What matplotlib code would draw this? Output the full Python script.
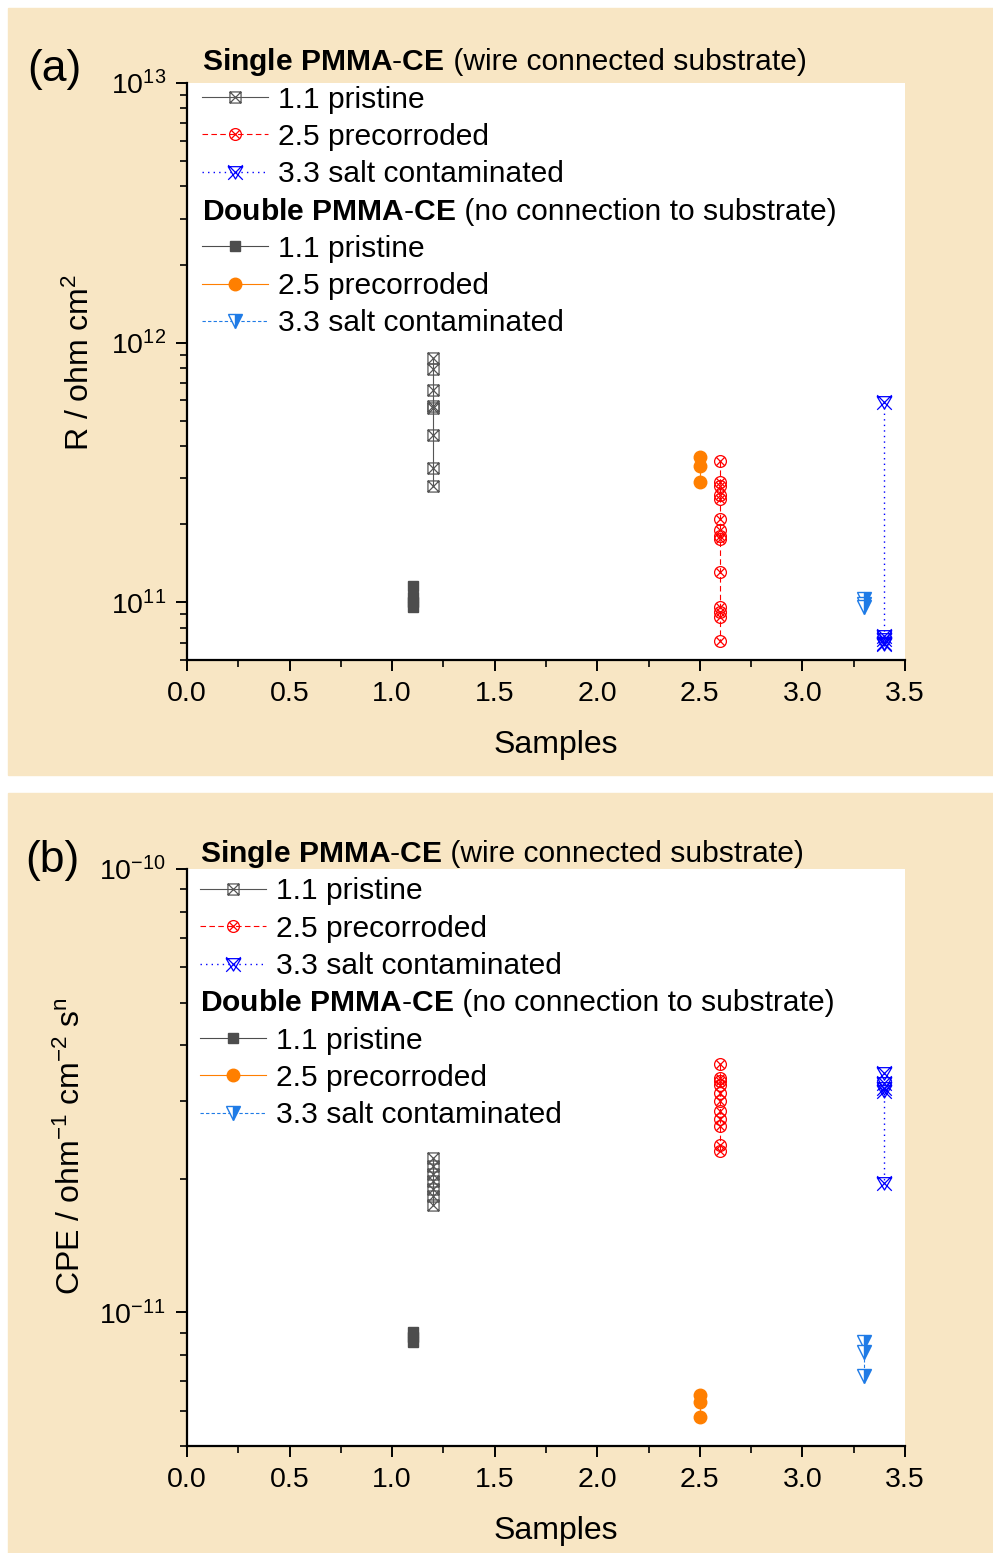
import matplotlib
matplotlib.use('Agg')
import matplotlib.pyplot as plt
from matplotlib.path import Path
from matplotlib.lines import Line2D
from matplotlib.patches import Rectangle
from matplotlib.ticker import MultipleLocator, FormatStrFormatter, NullFormatter

plt.rcParams['font.family'] = ['Liberation Sans', 'DejaVu Sans']
plt.rcParams['mathtext.fontset'] = 'custom'
plt.rcParams['mathtext.rm'] = 'Liberation Sans'
plt.rcParams['mathtext.bf'] = 'Liberation Sans:bold'
plt.rcParams['mathtext.it'] = 'Liberation Sans:italic'

# ---------------- data ----------------
series_labels = ["1.1 pristine", "2.5 precorroded", "3.3 salt contaminated"]
title_single = (r"$\mathbf{Single\ PMMA}$-$\mathbf{CE}$", " (wire connected substrate)")
title_double = (r"$\mathbf{Double\ PMMA}$-$\mathbf{CE}$", " (no connection to substrate)")

# panel (a): resistance R / ohm cm^2
x_sp_R = [1.2, 1.2, 1.2, 1.2, 1.2, 1.2, 1.2, 1.2]
sp_R = [8.7e11, 7.9e11, 6.6e11, 5.7e11, 5.6e11, 4.4e11, 3.3e11, 2.8e11]
x_sc_R = [2.6, 2.6, 2.6, 2.6, 2.6, 2.6, 2.6, 2.6, 2.6, 2.6, 2.6, 2.6, 2.6, 2.6]
sc_R = [3.5e11, 2.9e11, 2.8e11, 2.6e11, 2.5e11, 2.1e11, 1.9e11, 1.8e11,
        1.75e11, 1.31e11, 9.6e10, 9.2e10, 8.8e10, 7.1e10]
x_ss_R = [3.4, 3.4, 3.4, 3.4, 3.4]
ss_R = [5.9e11, 7.4e10, 7.2e10, 7.0e10, 6.9e10]
x_dp_R = [1.1, 1.1, 1.1, 1.1]
dp_R = [1.16e11, 1.05e11, 1.0e11, 9.6e10]
x_dc_R = [2.5, 2.5, 2.5]
dc_R = [3.63e11, 3.35e11, 2.9e11]
x_ds_R = [3.3, 3.3, 3.3]
ds_R = [1.03e11, 9.9e10, 9.56e10]

# panel (b): CPE / ohm^-1 cm^-2 s^n
x_sp_C = [1.2, 1.2, 1.2, 1.2, 1.2, 1.2, 1.2]
sp_C = [2.23e-11, 2.14e-11, 2.05e-11, 1.98e-11, 1.90e-11, 1.83e-11, 1.75e-11]
x_sc_C = [2.6, 2.6, 2.6, 2.6, 2.6, 2.6, 2.6, 2.6, 2.6, 2.6, 2.6]
sc_C = [3.64e-11, 3.38e-11, 3.33e-11, 3.26e-11, 3.13e-11, 3.0e-11, 2.85e-11,
        2.73e-11, 2.64e-11, 2.38e-11, 2.31e-11]
x_ss_C = [3.4, 3.4, 3.4, 3.4, 3.4]
ss_C = [3.47e-11, 3.30e-11, 3.21e-11, 3.15e-11, 1.96e-11]
x_dp_C = [1.1, 1.1, 1.1]
dp_C = [9.05e-12, 8.8e-12, 8.6e-12]
x_dc_C = [2.5, 2.5, 2.5]
dc_C = [6.52e-12, 6.29e-12, 5.82e-12]
x_ds_C = [3.3, 3.3, 3.3]
ds_C = [8.6e-12, 8.16e-12, 7.19e-12]

x_ticks_major = 0.5
x_ticks_minor = 0.25

# ---------------- markers ----------------
M, L, C = Path.MOVETO, Path.LINETO, Path.CLOSEPOLY
sq = Path([(-1, -1), (1, -1), (1, 1), (-1, 1), (-1, -1)], [M, L, L, L, C])
xl = Path([(-1, -1), (1, 1), (-1, 1), (1, -1)], [M, L, M, L])
box_x = Path.make_compound_path(sq, xl)
d = 0.7071
circ_x = Path.make_compound_path(Path.unit_circle(),
                                 Path([(-d, -d), (d, d), (-d, d), (d, -d)], [M, L, M, L]))
tri = Path([(-1, 0.8), (1, 0.8), (0, -0.9), (-1, 0.8)], [M, L, L, C])
tri_xl = Path([(-1, 1), (1, -1), (1, 1), (-1, -1)], [M, L, M, L])
tri_x = Path.make_compound_path(tri, tri_xl)

GREY1 = '#555555'
GREY2 = '#4D4D4D'
RED = '#FF0000'
BLUE = '#0000FF'
ORANGE = '#FF7F00'
BLUE2 = '#1F7BE6'
BEIGE = '#F8E6C4'

FS_TICK = 20.5
FS_LAB = 23
FS_LEG = 21.6

W, H = 993, 1553
fig = plt.figure(figsize=(W / 100, H / 100), dpi=100)
fig.patches.append(Rectangle((8 / W, 1 - 775 / H), (W - 8) / W, (775 - 8) / H,
                             transform=fig.transFigure, color=BEIGE, zorder=-10))
fig.patches.append(Rectangle((8 / W, 0), (W - 8) / W, (H - 793) / H,
                             transform=fig.transFigure, color=BEIGE, zorder=-10))

axL = 187 / W
axW = (905 - 187) / W
axH = (660 - 83) / H
ax1 = fig.add_axes([axL, 1 - 660 / H, axW, axH])
ax2 = fig.add_axes([axL, 1 - 1446 / H, axW, axH])


def draw_panel(ax, xs, ys):
    (x_sp, x_sc, x_ss, x_dp, x_dc, x_ds) = xs
    (sp, sc, ss, dp, dc, ds) = ys
    h = []
    h += ax.plot(x_sp, sp, ls='-', lw=0.8, color=GREY1, marker=box_x, ms=8,
                 mfc='none', mec=GREY1, mew=0.9)
    h += ax.plot(x_sc, sc, ls=(0, (5, 3)), lw=0.8, color=RED, marker=circ_x, ms=8.5,
                 mfc='none', mec=RED, mew=0.9)
    h += ax.plot(x_ss, ss, ls=(0, (1, 3)), lw=1.0, color=BLUE, marker=tri_x, ms=10.5,
                 mfc='none', mec=BLUE, mew=0.9)
    h += ax.plot(x_dp, dp, ls='-', lw=0.8, color=GREY2, marker='s', ms=7.5,
                 mfc=GREY2, mec=GREY2)
    h += ax.plot(x_dc, dc, ls='-', lw=0.8, color=ORANGE, marker='o', ms=9,
                 mfc=ORANGE, mec=ORANGE)
    h += ax.plot(x_ds, ds, ls=(0, (3, 2)), lw=0.8, color=BLUE2, marker='v', ms=10,
                 fillstyle='right', mfc=BLUE2, mfcalt='white', mec=BLUE2, mew=1.0)
    ax.set_facecolor('white')
    ax.set_yscale('log')
    ax.set_xlim(0, 3.5)
    ax.xaxis.set_major_locator(MultipleLocator(x_ticks_major))
    ax.xaxis.set_minor_locator(MultipleLocator(x_ticks_minor))
    ax.xaxis.set_major_formatter(FormatStrFormatter('%.1f'))
    ax.yaxis.set_minor_formatter(NullFormatter())
    ax.xaxis.get_offset_text().set_visible(False)
    ax.yaxis.get_offset_text().set_visible(False)
    for s in ('top', 'right'):
        ax.spines[s].set_visible(False)
    for s in ('left', 'bottom'):
        ax.spines[s].set_linewidth(1.6)
    ax.tick_params(which='major', direction='out', length=8, width=1.4,
                   labelsize=FS_TICK, pad=7)
    ax.tick_params(which='minor', direction='out', length=5, width=1.2)
    ax.set_xlabel('Samples', fontsize=FS_LAB, labelpad=16.5)
    ax.xaxis.label.set_x(0.514)
    return h


h1 = draw_panel(ax1, (x_sp_R, x_sc_R, x_ss_R, x_dp_R, x_dc_R, x_ds_R),
                (sp_R, sc_R, ss_R, dp_R, dc_R, ds_R))
ax1.set_ylim(6e10, 1e13)
ax1.set_ylabel(r'R / ohm cm$^\mathregular{2}$', fontsize=FS_LAB, labelpad=11)
ax1.yaxis.label.set_y(0.516)

h2 = draw_panel(ax2, (x_sp_C, x_sc_C, x_ss_C, x_dp_C, x_dc_C, x_ds_C),
                (sp_C, sc_C, ss_C, dp_C, dc_C, ds_C))
ax2.set_ylim(5e-12, 1e-10)
ax2.set_ylabel(r'CPE / ohm$^\mathregular{-1}$ cm$^\mathregular{-2}$ s$^\mathregular{n}$',
               fontsize=FS_LAB, labelpad=9)
ax2.yaxis.label.set_y(0.52)

fig.text(27 / W, 1 - 70 / H, '(a)', fontsize=32, va='center', ha='left')
fig.text(25 / W, 1 - 860 / H, '(b)', fontsize=32, va='center', ha='left')

HL, HP = 2.2, 0.33


def make_legend(ax, handles, anchor):
    blank = Line2D([], [], linestyle='none')
    hs = [blank] + handles[:3] + [blank] + handles[3:]
    ls = [' '] + series_labels + [' '] + series_labels
    leg = ax.legend(hs, ls, loc='upper left', bbox_to_anchor=anchor, frameon=False,
                    fontsize=FS_LEG, handlelength=HL, handletextpad=HP,
                    labelspacing=0.31, borderpad=0, borderaxespad=0)
    return leg


leg1 = make_legend(ax1, h1, (0.021, 1.060))
leg2 = make_legend(ax2, h2, (0.018, 1.050))

fig.canvas.draw()
r = fig.canvas.get_renderer()
fs_px = FS_LEG * 100 / 72
for leg, ax in ((leg1, ax1), (leg2, ax2)):
    texts = leg.get_texts()
    x0 = texts[1].get_window_extent(r).x0 - (HL + HP) * fs_px
    for i, t in ((0, title_single), (4, title_double)):
        bb = texts[i].get_window_extent(r)
        yc = 0.5 * (bb.y0 + bb.y1)
        tb = fig.text(x0 / W, yc / H, t[0], fontsize=FS_LEG, va='center', ha='left')
        fig.canvas.draw()
        bbt = tb.get_window_extent(r)
        fig.text(bbt.x1 / W, yc / H, t[1], fontsize=FS_LEG, va='center', ha='left')

fig.savefig('out.png', dpi=100)
